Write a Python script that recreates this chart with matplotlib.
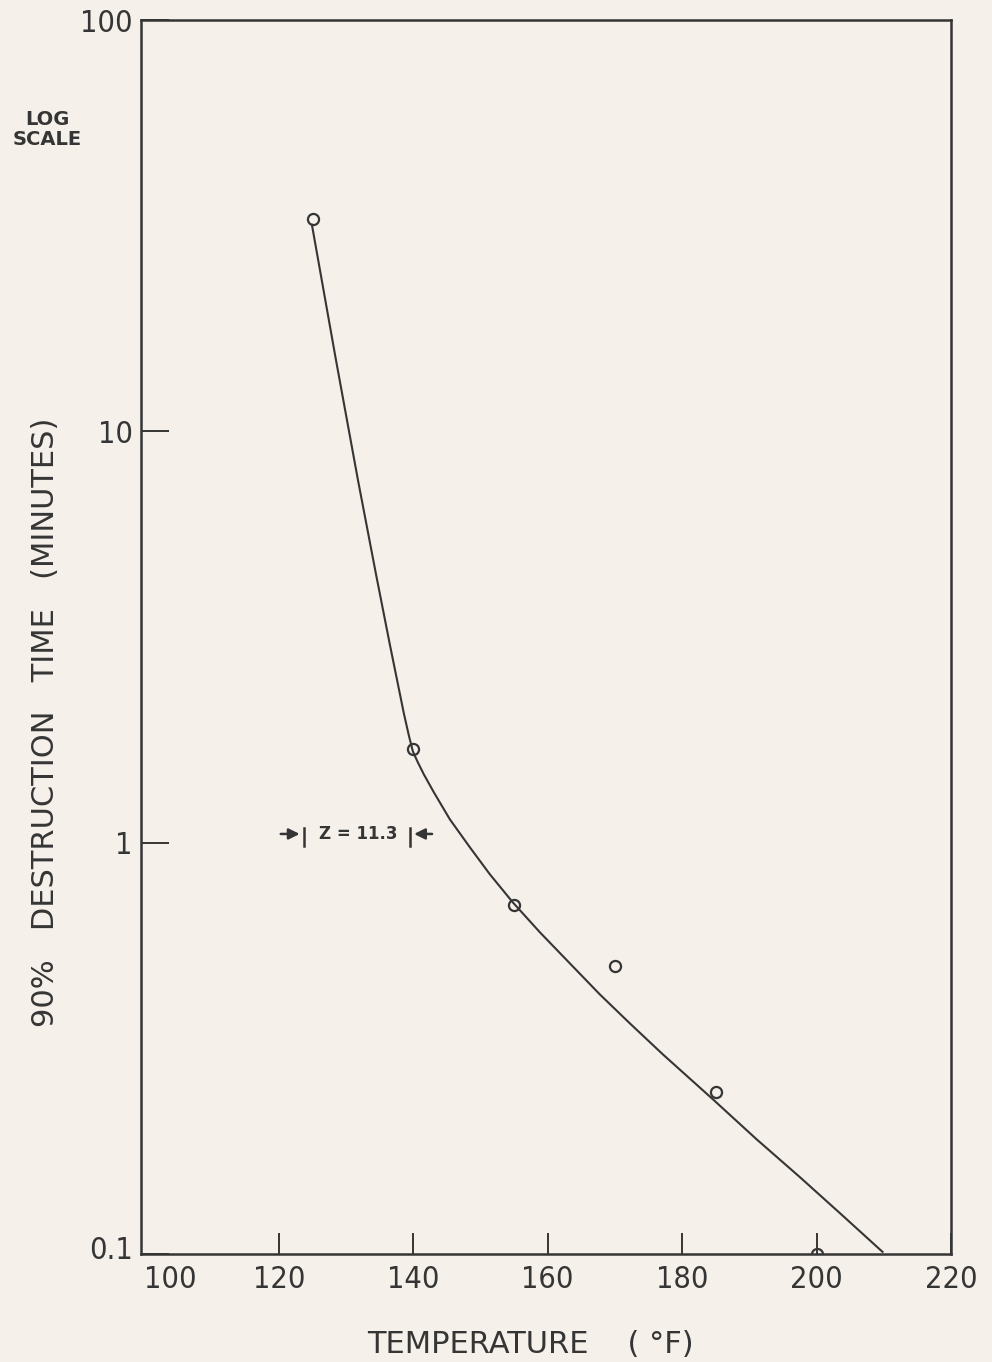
import matplotlib
matplotlib.use('Agg')
import matplotlib.pyplot as plt
from matplotlib.transforms import ScaledTranslation

# measured points (temperature F, 90% destruction time in minutes)
temp_pts = [125, 140, 155, 170, 185, 200]
time_pts = [32.9, 1.69, 0.705, 0.50, 0.248, 0.1]

# hand drawn curve
curve_t = [124.91, 128.48, 131.75, 134.45, 136.51, 138.59, 139.33, 139.93,
           140.67, 141.56, 143.05, 145.43, 148.40, 151.38, 154.80, 158.81,
           162.83, 167.73, 172.19, 177.10, 184.54, 191.08, 197.47, 203.87,
           209.81]
curve_y = [31.78, 14.94, 7.63, 4.49, 3.03, 2.062, 1.823, 1.667,
           1.568, 1.466, 1.326, 1.140, 0.975, 0.838, 0.716, 0.606,
           0.518, 0.428, 0.364, 0.306, 0.238, 0.190, 0.154, 0.124,
           0.1012]

xticks = [100, 120, 140, 160, 180, 200, 220]
yticks = [0.1, 1, 10, 100]
ytick_labels = ['0.1', '1', '10', '100']

ink = '#353535'
paper = '#f5f0e9'

fig = plt.figure(figsize=(9.92, 13.62), dpi=100, facecolor=paper)
ax = fig.add_axes([141 / 992, 0.0793, 810 / 992, 0.9060])
ax.set_facecolor(paper)

ax.plot(curve_t, curve_y, color=ink, lw=1.5, solid_joinstyle='round')
ax.plot(temp_pts, time_pts, ls='none', marker='o', ms=8, mfc='none',
        mec=ink, mew=1.6)

ax.set_yscale('log')
ax.set_xlim(99.48, 220)
ax.set_ylim(0.1, 100)
ax.set_xticks(xticks)
ax.set_xticklabels([str(t) for t in xticks], fontsize=22, color=ink,
                   fontstretch='condensed')
ax.set_yticks(yticks)
ax.set_yticklabels(ytick_labels, fontsize=22, color=ink, fontstretch='condensed')
ax.minorticks_off()
ax.tick_params(axis='x', direction='in', length=15, width=1.4, color=ink, pad=8)
ax.tick_params(axis='y', direction='in', length=20, width=1.4, color=ink, pad=6)
for s in ax.spines.values():
    s.set_linewidth(1.8)
    s.set_color(ink)

# tweaks after tick_params, which resets label transforms
t100 = ax.xaxis.get_major_ticks()[0]
t100.tick1line.set_visible(False)
t100.label1.set_ha('left')
low = ax.yaxis.get_major_ticks()[0].label1
low.set_transform(low.get_transform() + ScaledTranslation(0, 6 / 100, fig.dpi_scale_trans))

# Z annotation
zy = 1.05
ax.plot([123.72, 123.72], [0.98, 1.085], color=ink, lw=1.8)
ax.plot([139.48, 139.48], [0.98, 1.085], color=ink, lw=1.8)
ax.annotate('', xy=(123.5, zy), xytext=(119.86, zy),
            arrowprops=dict(arrowstyle='-|>', color=ink, lw=1.8, mutation_scale=16))
ax.annotate('', xy=(139.7, zy), xytext=(143.2, zy),
            arrowprops=dict(arrowstyle='-|>', color=ink, lw=1.8, mutation_scale=16))
ax.text(131.75, zy, 'Z = 11.3', ha='center', va='center', fontsize=12,
        fontweight='bold', color=ink)

fig.text(0.046, 0.47, '90%   DESTRUCTION   TIME   (MINUTES)', rotation=90,
         ha='center', va='center', fontsize=22, color=ink)
fig.text(0.535, 0.0125, 'TEMPERATURE    ( °F)', ha='center', va='center',
         fontsize=22, color=ink)
fig.text(0.048, 0.905, 'LOG\nSCALE', ha='center', va='center', fontsize=14,
         fontweight='bold', color=ink, linespacing=1.1)

fig.savefig('out.png', dpi=100, facecolor=paper)
